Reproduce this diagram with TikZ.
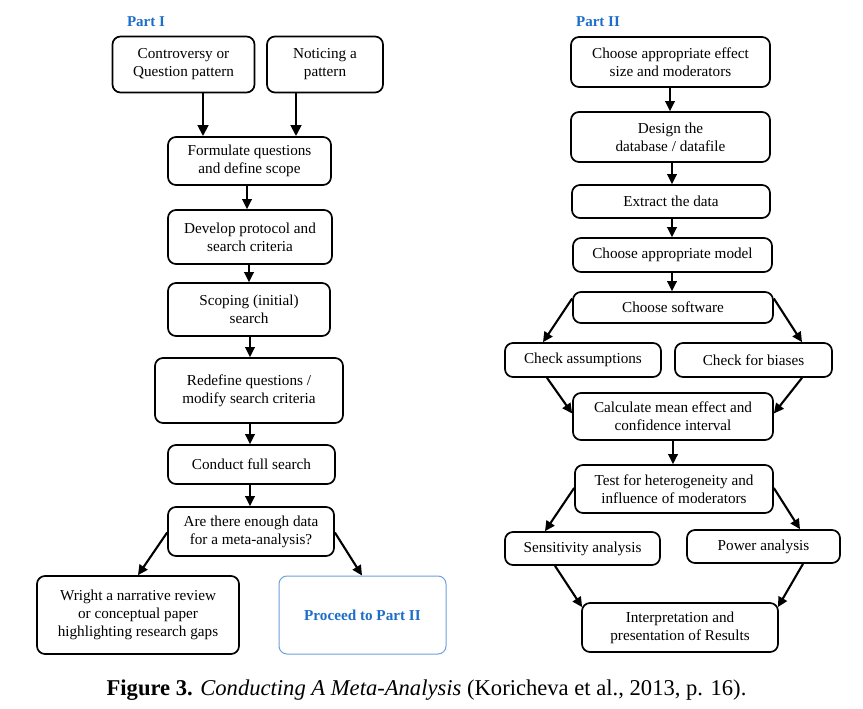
\documentclass[tikz,border=0pt]{standalone}
\usepackage{fontspec}
\setmainfont{Liberation Serif}
\usetikzlibrary{arrows.meta,calc}
\definecolor{partblue}{RGB}{28,110,200}
\definecolor{boxblue}{RGB}{110,160,220}
\newcommand{\bxfont}{\fontsize{15.2}{18}\selectfont}
\tikzset{
  box/.style={draw, rounded corners=8pt, line width=1.7pt, align=center, font=\bxfont, inner sep=1pt},
  arr/.style={-{Triangle[length=10pt,width=9.5pt]}, line width=2.1pt},
  thickarr/.style={-{Triangle[length=11pt,width=10.5pt]}, line width=2.9pt},
  lbl/.style={font=\fontsize{15}{18}\selectfont\bfseries, text=partblue}
}
\begin{document}
\begin{tikzpicture}[x=1pt,y=-1pt]
\useasboundingbox (0,0) rectangle (863,709);
% Part I
\node[lbl] (p1) at (146,22) {Part I};
\node[box, minimum width=142pt, minimum height=56pt] (c1) at (183.5,64.5) {Controversy or\\Question pattern};
\node[box, minimum width=116pt, minimum height=56pt] (c2) at (325,64.5) {Noticing a\\pattern};
\node[box, minimum width=163pt, minimum height=48pt] (f) at (249.5,161) {Formulate questions\\and define scope};
\node[box, minimum width=164pt, minimum height=54pt] (d) at (250,237) {Develop protocol and\\search criteria};
\node[box, minimum width=162pt, minimum height=53pt] (s) at (249,309.5) {Scoping (initial)\\search};
\node[box, minimum width=188pt, minimum height=65pt] (r) at (249,390.5) {Redefine questions /\\modify search criteria};
\node[box, minimum width=167pt, minimum height=39pt] (cf) at (251.5,464.5) {Conduct full search};
\node[box, minimum width=166pt, minimum height=49pt] (q) at (251,531.5) {Are there enough data\\for a meta-analysis?};
\node[box, minimum width=202pt, minimum height=78pt] (w) at (138,615) {Wright a narrative review\\or conceptual paper\\highlighting research gaps};
\node[box, draw=boxblue, line width=1pt, minimum width=167pt, minimum height=78pt, font=\bxfont\bfseries, text=partblue] (p) at (362.5,615) {Proceed to Part II};

\draw[thickarr] (c1.south -| 203,0) -- (f.north -| 203,0);
\draw[thickarr] (c2.south -| 296,0) -- (f.north -| 296,0);
\draw[arr] (f.south -| 247,0) -- (d.north -| 247,0);
\draw[arr] (d.south -| 249,0) -- (s.north -| 249,0);
\draw[arr] (s.south -| 250,0) -- (r.north -| 250,0);
\draw[arr] (r.south -| 250,0) -- (cf.north -| 250,0);
\draw[arr] (cf.south -| 250,0) -- (q.north -| 250,0);
\draw[arr] ([yshift=-1pt]q.west) -- (w.north -| 138,0);
\draw[arr] ([yshift=-1pt]q.east) -- (p.north -| 362,0);

% Part II
\node[lbl] (p2) at (598,22) {Part II};
\node[box, minimum width=199pt, minimum height=50pt] (e1) at (670.5,62) {Choose appropriate effect\\size and moderators};
\node[box, minimum width=199pt, minimum height=50pt] (e2) at (670.5,137) {Design the\\database / datafile};
\node[box, minimum width=198pt, minimum height=33pt] (e3) at (671,201.5) {Extract the data};
\node[box, minimum width=199pt, minimum height=34pt] (e4) at (672.5,255) {Choose appropriate model};
\node[box, minimum width=200pt, minimum height=31pt] (sw) at (673,307.5) {Choose software};
\node[box, minimum width=156pt, minimum height=34pt] (ca) at (583,360) {Check assumptions};
\node[box, minimum width=157pt, minimum height=34pt] (cb) at (753.5,360) {Check for biases};
\node[box, minimum width=200pt, minimum height=47pt] (m) at (673,416.5) {Calculate mean effect and\\confidence interval};
\node[box, minimum width=198pt, minimum height=48pt] (t) at (674,489) {Test for heterogeneity and\\influence of moderators};
\node[box, minimum width=155pt, minimum height=33pt] (sa) at (582.5,548.5) {Sensitivity analysis};
\node[box, minimum width=153pt, minimum height=33pt] (pa) at (763.5,546.5) {Power analysis};
\node[box, minimum width=196pt, minimum height=49pt] (ip) at (680,627.5) {Interpretation and\\presentation of Results};

\draw[arr] (e1.south -| 670,0) -- (e2.north -| 670,0);
\draw[arr] (e2.south -| 672,0) -- (e3.north -| 672,0);
\draw[arr] (e3.south -| 672,0) -- (e4.north -| 672,0);
\draw[arr] (e4.south -| 672,0) -- (sw.north -| 672,0);
\draw[arr] ([yshift=9pt]sw.west) -- (ca.north -| 543,0);
\draw[arr] ([yshift=9pt]sw.east) -- (cb.north -| 802,0);
\draw[arr] (ca.south -| 547,0) -- ([yshift=3pt]m.west);
\draw[arr] (cb.south -| 802,0) -- ([yshift=3pt]m.east);
\draw[arr] (m.south -| 673,0) -- (t.north -| 673,0);
\draw[arr] ([yshift=1pt]t.west) -- (sa.north -| 545,0);
\draw[arr] ([yshift=1pt]t.east) -- (pa.north -| 800,0);
\draw[arr] (sa.south -| 555,0) -- ([xshift=1pt,yshift=-5pt]ip.north west);
\draw[arr] (pa.south -| 803,0) -- ([xshift=-1pt,yshift=-5pt]ip.north east);

% caption
\node[font=\fontsize{22.6}{26}\selectfont, anchor=base] (cap) at (426.5,695)
  {\textbf{Figure 3.} \textit{Conducting A Meta-Analysis} (Koricheva et al., 2013, p. 16).};
\end{tikzpicture}
\end{document}
